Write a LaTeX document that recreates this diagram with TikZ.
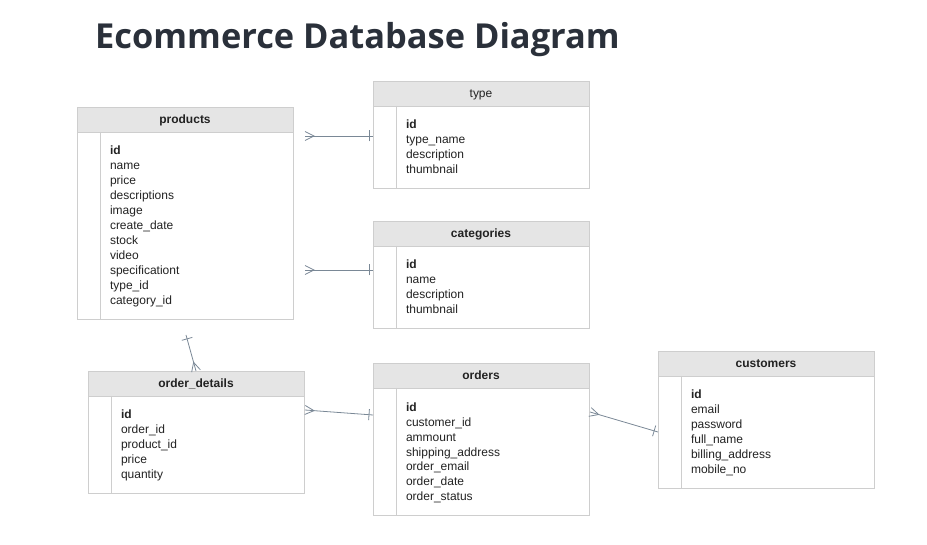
\documentclass[tikz,border=0pt]{standalone}
\usepackage{fontspec}
\setmainfont{Liberation Sans}
\newfontfamily\titlefont{Open Sans}
\usepackage{tikz}
\usetikzlibrary{positioning, decorations.markings}

\definecolor{tblborder}{RGB}{206,206,206}
\definecolor{tblfill}{RGB}{229,229,229}
\definecolor{tbltext}{RGB}{34,34,34}
\definecolor{relcolor}{RGB}{122,136,150}
\definecolor{titlecolor}{RGB}{42,48,58}

\begin{document}
\begin{tikzpicture}[
    x=1pt, y=-1pt,
    title/.style={font=\titlefont\bfseries\fontsize{34.4}{40}\selectfont, text=titlecolor,
                  inner sep=0pt},
    tblhead/.style={draw=tblborder, fill=tblfill, line width=0.9pt, minimum width=216pt,
                    minimum height=25pt, inner sep=0pt, outer sep=0pt, text=tbltext,
                    text height=10pt, text depth=1pt,
                    font=\fontsize{12}{15}\selectfont#1},
    tblhead/.default=\bfseries,
    tblbody/.style={draw=tblborder, line width=0.9pt, text width=150pt, inner xsep=33pt,
                    inner ysep=9.5pt, outer sep=0pt, align=left, text=tbltext,
                    font=\fontsize{12}{15}\selectfont},
    tblline/.style={draw=tblborder, line width=0.9pt},
    rel/.style={draw=relcolor, line width=0.8pt, postaction={decorate, decoration={markings,
        mark=at position 0 with {\draw[relcolor, line width=0.8pt] (0pt,4.5pt) -- (9pt,0pt) -- (0pt,-4.5pt);},
        mark=at position -4pt with {\draw[relcolor, line width=0.8pt] (0pt,-5.5pt) -- (0pt,5.5pt);}}}}
]
\useasboundingbox (0,0) rectangle (927,545);

\node[title, anchor=base west] (title) at (95,49) {Ecommerce Database Diagram};

% products
\node[tblhead, anchor=north west] (prodh) at (77,107) {products};
\node[tblbody, below=0pt of prodh] (prod) {\rule{0pt}{13.5pt}\textbf{id}\\ name\\ price\\ descriptions\\
    image\\ create\_date\\ stock\\ video\\ specificationt\\ type\_id\\ category\_id\strut};
\draw[tblline] ([xshift=23pt]prod.north west) -- ([xshift=23pt]prod.south west);

% type
\node[tblhead=\mdseries, anchor=north west] (typeh) at (373,81) {type};
\node[tblbody, below=0pt of typeh] (type) {\rule{0pt}{13.5pt}\textbf{id}\\ type\_name\\ description\\
    thumbnail\strut};
\draw[tblline] ([xshift=23pt]type.north west) -- ([xshift=23pt]type.south west);

% categories
\node[tblhead, anchor=north west] (cath) at (373,221) {categories};
\node[tblbody, below=0pt of cath] (cat) {\rule{0pt}{13.5pt}\textbf{id}\\ name\\ description\\
    thumbnail\strut};
\draw[tblline] ([xshift=23pt]cat.north west) -- ([xshift=23pt]cat.south west);

% order_details
\node[tblhead, anchor=north west] (odh) at (88,371) {order\_details};
\node[tblbody, below=0pt of odh] (od) {\rule{0pt}{13.5pt}\textbf{id}\\ order\_id\\ product\_id\\ price\\
    quantity\strut};
\draw[tblline] ([xshift=23pt]od.north west) -- ([xshift=23pt]od.south west);

% orders
\node[tblhead, anchor=north west] (ordh) at (373,363) {orders};
\node[tblbody, below=0pt of ordh] (ord) {\rule{0pt}{13.5pt}\textbf{id}\\ customer\_id\\ ammount\\
    shipping\_address\\ order\_email\\ order\_date\\ order\_status\strut};
\draw[tblline] ([xshift=23pt]ord.north west) -- ([xshift=23pt]ord.south west);

% customers
\node[tblhead, anchor=north west] (custh) at (658,351) {customers};
\node[tblbody, below=0pt of custh] (cust) {\rule{0pt}{13.5pt}\textbf{id}\\ email\\ password\\ full\_name\\
    billing\_address\\ mobile\_no\strut};
\draw[tblline] ([xshift=23pt]cust.north west) -- ([xshift=23pt]cust.south west);

% Relations (crow's foot on the many side)
\coordinate (p-type) at (305,136);
\coordinate (p-cat) at (305,270);
\coordinate (p-od) at (186,335);
\coordinate (od-ord) at (305,410);
\coordinate (ord-cust) at (590,412);

\draw[rel] (p-type) -- (p-type -| type.west);
\draw[rel] (p-cat) -- (p-cat -| cat.west);
\draw[rel] (odh.north) -- (p-od);
\draw[rel] (od-ord) -- ([yshift=-5pt]od-ord -| ord.west);
\draw[rel] (ord-cust) -- ([yshift=-20pt]ord-cust -| cust.west);
\end{tikzpicture}
\end{document}
